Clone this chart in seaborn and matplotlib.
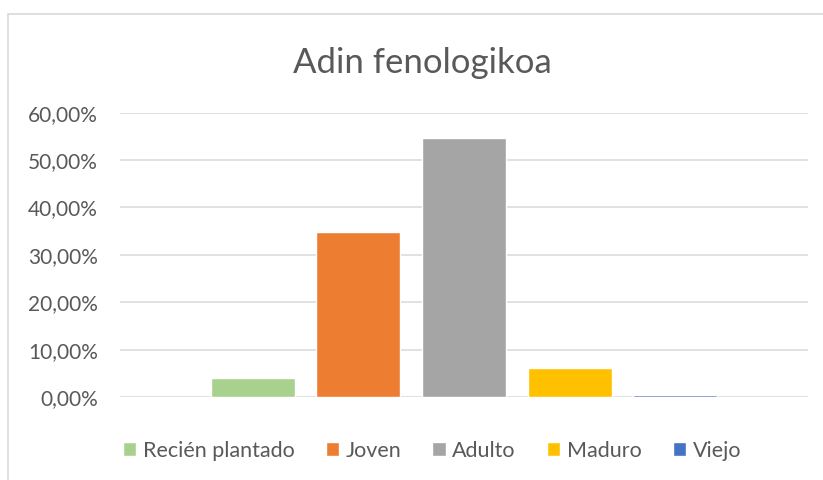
import matplotlib
matplotlib.use('Agg')
import matplotlib.pyplot as plt
import seaborn as sns
from matplotlib.ticker import FuncFormatter, MultipleLocator
from matplotlib.patches import Rectangle

# Data
categories = ['Recién plantado', 'Joven', 'Adulto', 'Maduro', 'Viejo']
shares = [0.041, 0.348, 0.547, 0.062, 0.004]
bar_colors = ['#A9D18E', '#ED7D31', '#A5A5A5', '#FFC000', '#4472C4']
title = 'Adin fenologikoa'

sns.set_theme(style='white')
plt.rcParams['font.family'] = ['Lato', 'DejaVu Sans']

W, H = 823, 480
fig = plt.figure(figsize=(W / 100, H / 100), dpi=100)
fig.patch.set_facecolor('white')

# chart frame (only left and top edges are visible in the crop)
fig.patches.append(Rectangle((8 / W, -0.1), 1.2, (H - 14) / H + 0.1,
                             transform=fig.transFigure, fill=False,
                             edgecolor='#D9D9D9', linewidth=1.2))

ax = fig.add_axes([120 / W, (H - 397) / H, (808 - 120) / W, (397 - 112.7) / H])
sns.barplot(x=categories, y=shares, hue=categories, palette=bar_colors,
            width=0.796, saturation=1, legend=True, ax=ax)
for p in ax.patches:
    p.set_zorder(3)

handles = ax.get_legend().legend_handles
ax.get_legend().remove()

ax.set_xlim(-1.26, 5.26)
ax.set_ylim(0, 0.6)
ax.yaxis.set_major_locator(MultipleLocator(0.1))
ax.yaxis.set_major_formatter(FuncFormatter(lambda v, p: f'{v * 100:.2f}%'.replace('.', ',')))
ax.set_xticks([])
ax.set_xlabel('')
ax.set_ylabel('')
ax.grid(axis='y', color='#D9D9D9', linewidth=1.1, zorder=0)
ax.set_axisbelow(True)
for s in ax.spines.values():
    s.set_visible(False)
ax.tick_params(axis='y', length=0, pad=16, labelsize=15, labelcolor='#595959')
ax.set_facecolor('white')

fig.text(422 / W, (H - 73) / H, title, ha='center', va='baseline',
         fontsize=25, color='#595959')

fig.legend(handles, categories, loc='center', ncol=5, frameon=False,
           bbox_to_anchor=(432 / W, (H - 451) / H), bbox_transform=fig.transFigure,
           fontsize=15.5, labelcolor='#595959', handlelength=0.62, handleheight=0.62,
           handletextpad=0.3, columnspacing=1.45)

fig.savefig('out.png', dpi=100, facecolor='white')
